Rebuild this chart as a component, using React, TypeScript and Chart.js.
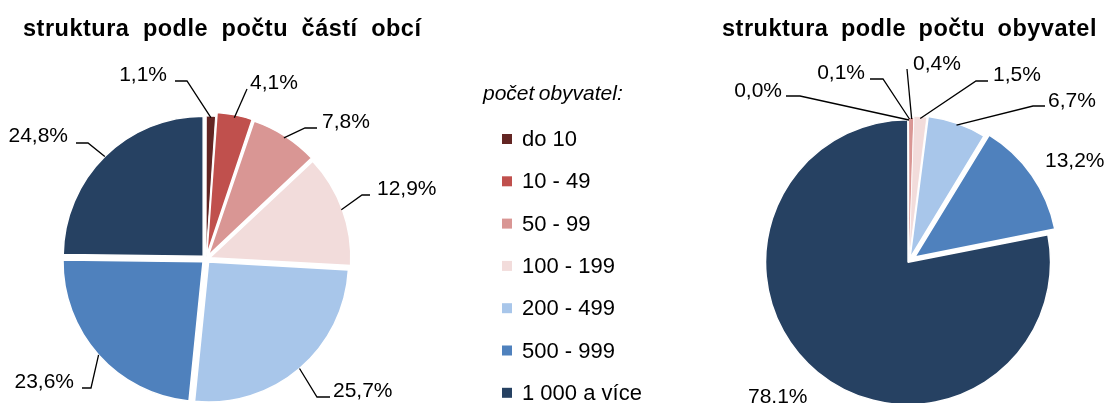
import React, { useEffect, useRef } from 'react';
import { Chart, registerables } from 'chart.js';

Chart.register(...registerables);

// ---------- data ----------
const categories = ['do 10', '10 - 49', '50 - 99', '100 - 199', '200 - 499', '500 - 999', '1 000 a více'];
const partsShare = [1.1, 4.1, 7.8, 12.9, 25.7, 23.6, 24.8];
const populationShare = [0.0, 0.1, 0.4, 1.5, 6.7, 13.2, 78.1];
const partsLabels = ['1,1%', '4,1%', '7,8%', '12,9%', '25,7%', '23,6%', '24,8%'];
const populationLabels = ['0,0%', '0,1%', '0,4%', '1,5%', '6,7%', '13,2%', '78.1%'];
const leftTitle = 'struktura podle počtu částí obcí';
const rightTitle = 'struktura podle počtu obyvatel';
const legendTitle = 'počet obyvatel:';

// ---------- styles ----------
const colors = ['#632523', '#C0504D', '#D99694', '#F2DCDB', '#A8C6EA', '#4F81BD', '#264162'];
const leftOffsets = [6, 16, 16, 16, 16, 16, 16];
const leftBorders = [1, 1.5, 1.5, 1.5, 1.5, 1.5, 1.5];
const rightOffsets = [0, 4, 4, 8, 12, 28, 6];
const rightBorders = [0, 0, 0, 0.8, 1.5, 1.5, 1.5];
const FONT = '"Liberation Sans", Arial, sans-serif';

type LabelLayout = { elbow?: [number, number]; end?: number; text: [number, number]; align: 'left' | 'right' };

// label placement relative to the pie centre
const leftLayout: LabelLayout[] = [
  { elbow: [-19, -178], end: -31, text: [-39, -178], align: 'right' },
  { elbow: [41, -170], text: [44, -170], align: 'left' },
  { elbow: [99, -131], end: 111, text: [116, -131], align: 'left' },
  { elbow: [156, -64], end: 164, text: [171, -64], align: 'left' },
  { elbow: [111, 138], end: 124, text: [127, 138], align: 'left' },
  { elbow: [-115, 129], end: -124, text: [-132, 129], align: 'right' },
  { elbow: [-118, -116], end: -130, text: [-138, -117], align: 'right' },
];
const rightLayout: LabelLayout[] = [
  { elbow: [-109, -165], end: -123, text: [-127, -164], align: 'right' },
  { elbow: [-26, -182], end: -39, text: [-44, -182], align: 'right' },
  { elbow: [-2, -192], text: [4, -191], align: 'left' },
  { elbow: [67, -180], end: 79, text: [84, -180], align: 'left' },
  { elbow: [124, -155], end: 136, text: [139, -154], align: 'left' },
  { text: [136, -94], align: 'left' },
  { text: [-161, 142], align: 'left' },
];

const leaderLabels = {
  id: 'leaderLabels',
  afterDatasetsDraw(chart: any, _args: any, opts: any) {
    const meta = chart.getDatasetMeta(0);
    const ctx = chart.ctx as CanvasRenderingContext2D;
    ctx.save();
    ctx.strokeStyle = '#000';
    ctx.lineWidth = 1.3;
    ctx.fillStyle = '#000';
    ctx.font = `21px ${FONT}`;
    ctx.textBaseline = 'alphabetic';
    meta.data.forEach((arc: any, i: number) => {
      const lay: LabelLayout = opts.layout[i];
      const p = arc.getProps(['x', 'y', 'startAngle', 'endAngle', 'outerRadius'], true);
      const off = (arc.options.offset || 0) / 4;
      const mid = (p.startAngle + p.endAngle) / 2;
      const ax = p.x + Math.cos(mid) * (p.outerRadius + off);
      const ay = p.y + Math.sin(mid) * (p.outerRadius + off);
      if (lay.elbow) {
        ctx.beginPath();
        ctx.moveTo(ax, ay);
        ctx.lineTo(p.x + lay.elbow[0], p.y + lay.elbow[1]);
        if (lay.end !== undefined) ctx.lineTo(p.x + lay.end, p.y + lay.elbow[1]);
        ctx.stroke();
      }
      ctx.textAlign = lay.align;
      ctx.fillText(opts.texts[i], p.x + lay.text[0], p.y + lay.text[1]);
    });
    ctx.restore();
  },
};

const decorations = {
  id: 'decorations',
  afterDraw(chart: any, _args: any, opts: any) {
    const ctx = chart.ctx as any;
    ctx.save();
    ctx.fillStyle = '#000';
    ctx.textBaseline = 'alphabetic';
    ctx.textAlign = 'left';
    ctx.font = `bold 23.5px ${FONT}`;
    ctx.letterSpacing = '0.5px';
    ctx.wordSpacing = opts.wordSpacing;
    ctx.fillText(opts.title, opts.titleX, opts.titleY);
    ctx.letterSpacing = '0px';
    ctx.wordSpacing = '0px';
    if (opts.legend) {
      const lg = opts.legend;
      ctx.font = `italic 21px ${FONT}`;
      ctx.wordSpacing = '-1.5px';
      ctx.fillText(legendTitle, lg.x, lg.y);
      ctx.wordSpacing = '0px';
      ctx.font = `22px ${FONT}`;
      categories.forEach((c, i) => {
        const by = lg.firstY + i * lg.step;
        ctx.fillStyle = colors[i];
        ctx.fillRect(lg.boxX, by - 12, 10, 10);
        ctx.fillStyle = '#000';
        ctx.fillText(c, lg.textX, by);
      });
    }
    ctx.restore();
  },
};

function PieCanvas(props: {
  width: number; values: number[]; texts: string[]; layout: LabelLayout[]; offsets: number[]; borders: number[];
  padding: any; radius: number; deco: any;
}) {
  const ref = useRef<HTMLCanvasElement>(null);
  useEffect(() => {
    const chart = new Chart(ref.current!, {
      type: 'pie',
      data: {
        labels: categories,
        datasets: [{
          data: props.values,
          backgroundColor: colors,
          borderColor: '#ffffff',
          borderWidth: props.borders,
          offset: props.offsets,
        }],
      },
      options: {
        responsive: false,
        maintainAspectRatio: false,
        animation: false,
        radius: props.radius,
        layout: { padding: props.padding },
        plugins: {
          legend: { display: false },
          tooltip: { enabled: false },
          leaderLabels: { texts: props.texts, layout: props.layout },
          decorations: props.deco,
        } as any,
      } as any,
      plugins: [leaderLabels, decorations],
    });
    return () => chart.destroy();
  }, []);
  return <canvas ref={ref} width={props.width} height={403} style={{ width: props.width, height: 403, display: 'block' }} />;
}

export default function App() {
  return (
    <div style={{ position: 'absolute', left: 0, top: 0, width: 1107, height: 403, background: '#fff', overflow: 'hidden' }}>
      <div style={{ position: 'absolute', left: 0, top: 0 }}>
        <PieCanvas
          width={700}
          values={partsShare}
          texts={partsLabels}
          layout={leftLayout}
          offsets={leftOffsets}
          borders={leftBorders}
          padding={{ left: 0, right: 288, top: 115, bottom: 0 }}
          radius={140}
          deco={{ title: leftTitle, titleX: 23, titleY: 36, wordSpacing: '6.5px', legend: { x: 483, y: 100, boxX: 502, textX: 522, firstY: 146, step: 42.3 } }}
        />
      </div>
      <div style={{ position: 'absolute', left: 700, top: 0 }}>
        <PieCanvas
          width={407}
          values={populationShare}
          texts={populationLabels}
          layout={rightLayout}
          offsets={rightOffsets}
          borders={rightBorders}
          padding={{ left: 11, right: 0, top: 119, bottom: 0 }}
          radius={141}
          deco={{ title: rightTitle, titleX: 22, titleY: 36, wordSpacing: '5.5px' }}
        />
      </div>
    </div>
  );
}
